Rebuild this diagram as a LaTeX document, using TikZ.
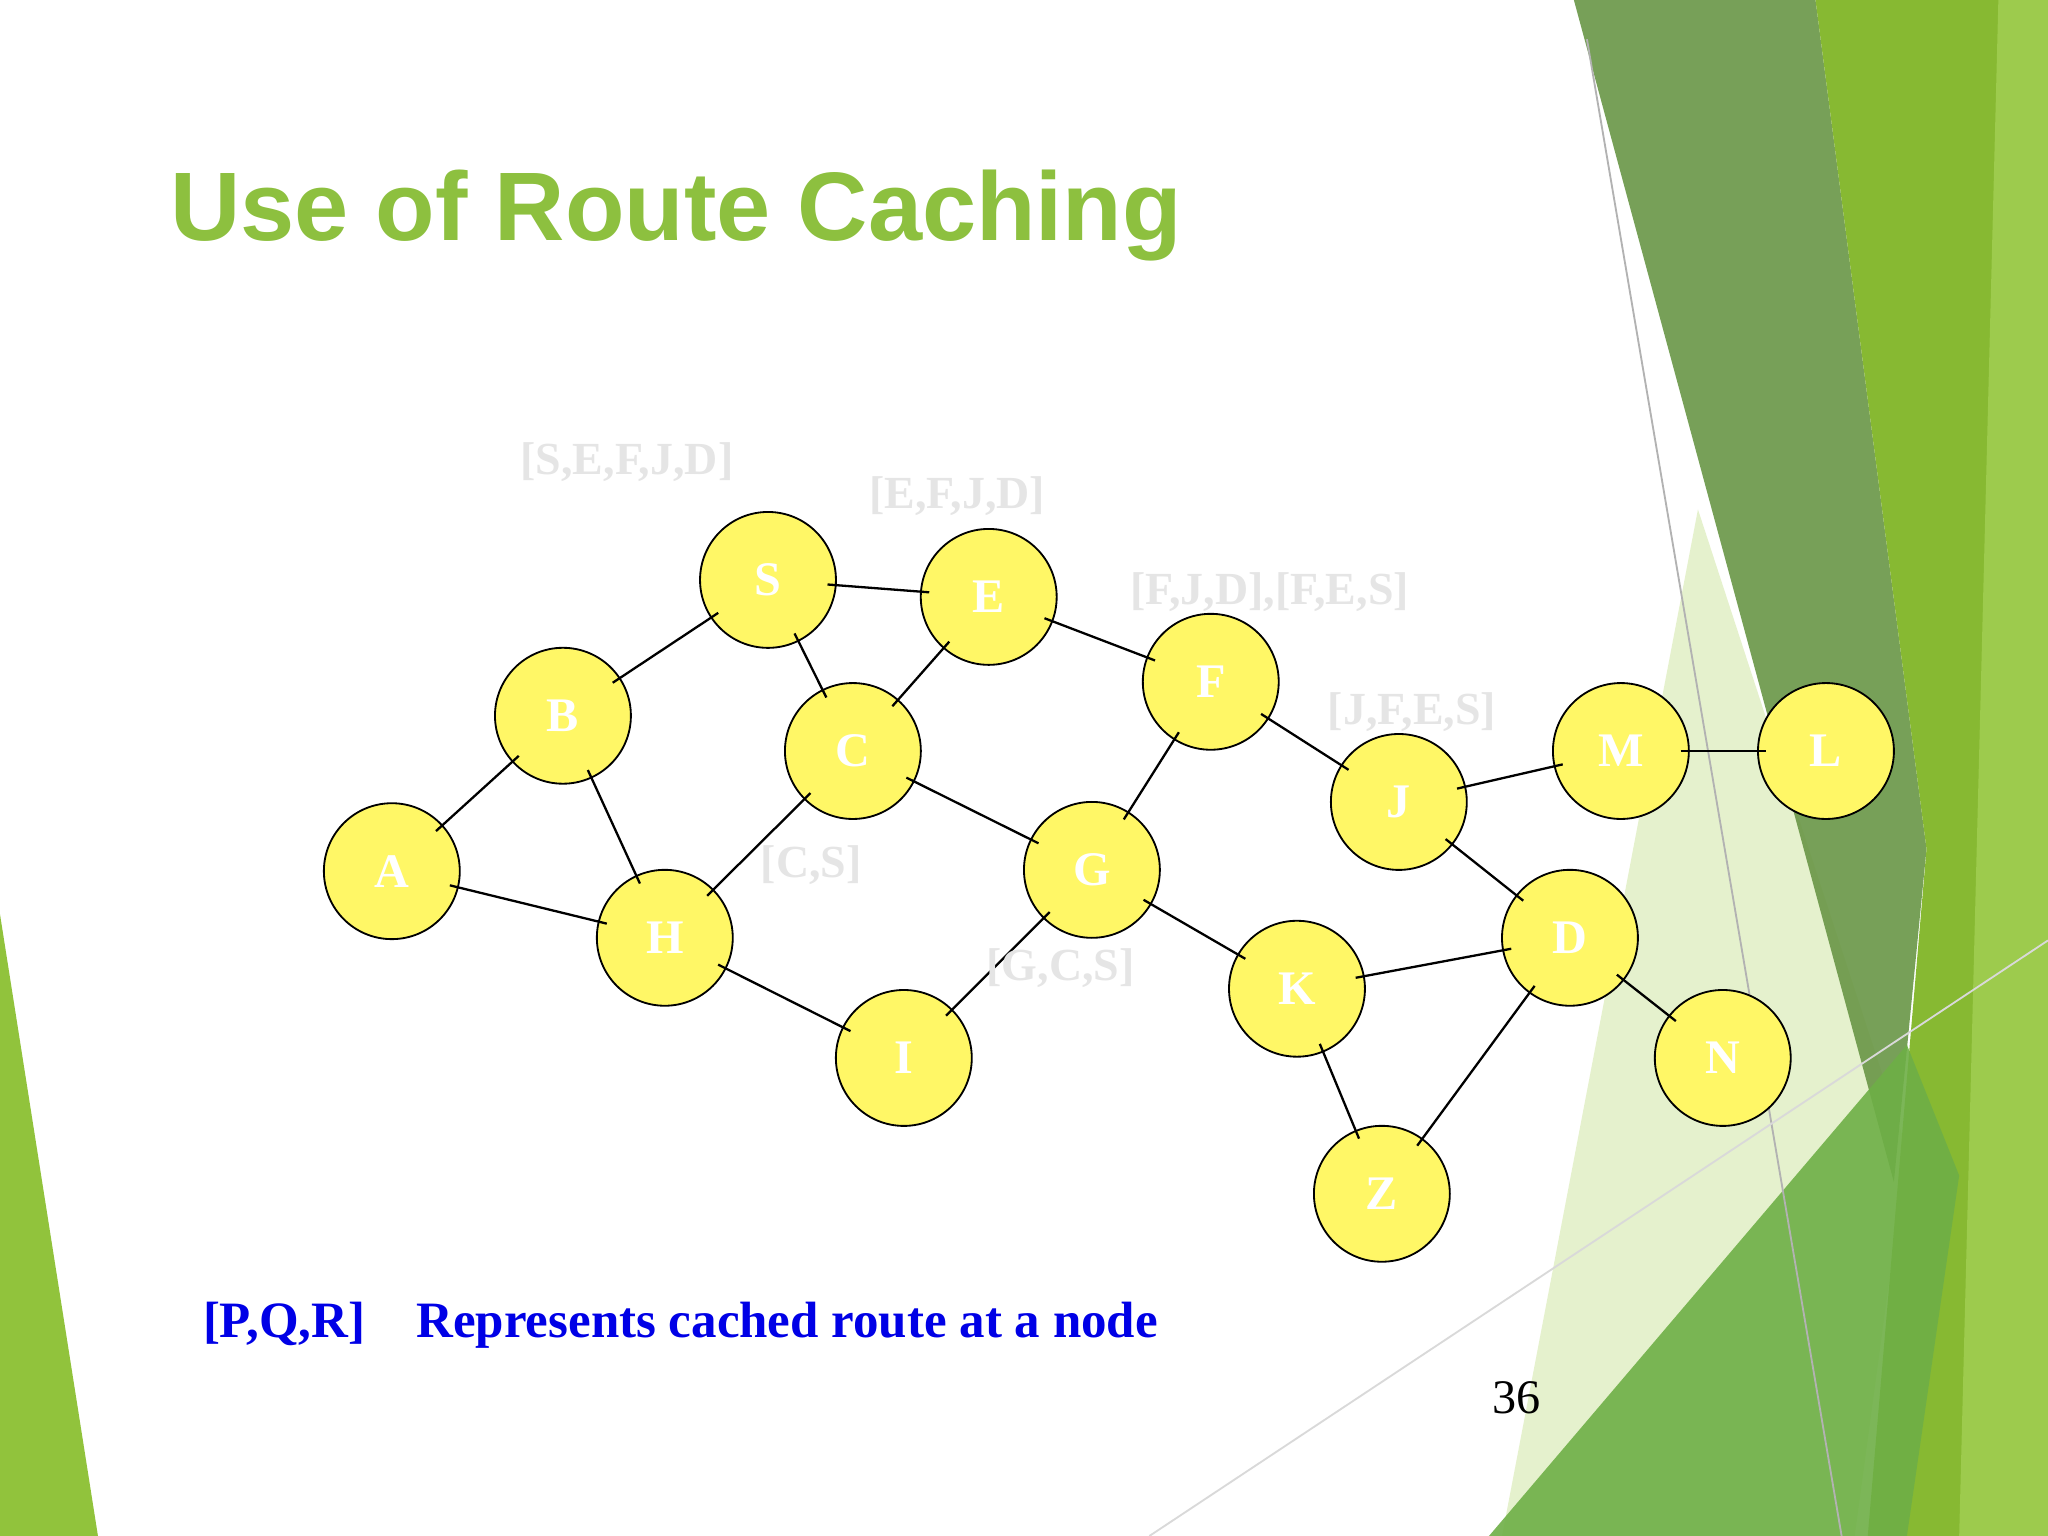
\documentclass[tikz,border=0pt]{standalone}
\usepackage{fontspec}
\setmainfont{Liberation Serif}
\newfontfamily\titlefont{Liberation Sans}
\begin{document}
\begin{tikzpicture}[x=0.01cm,y=-0.01cm,
  nd/.style={circle,draw=black,fill=yellow!60,minimum size=1.04cm,inner sep=0pt,font=\bfseries\fontsize{10.5}{12}\selectfont,text=white},
  cache/.style={font=\bfseries\fontsize{10}{12}\selectfont,text=black!10},
  edge/.style={draw=black,line width=0.5pt}]
\useasboundingbox (0,0) rectangle (1568,1176);
\fill[white] (0,0) rectangle (1568,1176);
% background decoration
\fill[color={rgb,255:red,170;green,210;blue,90},opacity=0.3] (1300,390)--(1460,880)--(1420,1176)--(1150,1176)--cycle;
\fill[color={rgb,255:red,105;green,150;blue,70},opacity=0.9] (1205,0)--(1390,0)--(1475,650)--(1450,905)--cycle;
\fill[color={rgb,255:red,135;green,185;blue,50}] (1390,0)--(1568,0)--(1568,1176)--(1430,1176)--(1475,650)--cycle;
\fill[color={rgb,255:red,160;green,205;blue,80},opacity=0.9] (1530,0)--(1568,0)--(1568,1176)--(1500,1176)--cycle;
\fill[color={rgb,255:red,110;green,175;blue,70},opacity=0.9] (1140,1176)--(1460,800)--(1500,900)--(1460,1176)--cycle;
\fill[color={rgb,255:red,145;green,195;blue,60}] (0,700)--(75,1176)--(0,1176)--cycle;
\draw[black!30] (1215,30)--(1410,1176);
\draw[black!15] (880,1176)--(1568,720);
% title
\node[anchor=west,font=\titlefont\bfseries\fontsize{21.2}{26}\selectfont,text={rgb,255:red,141;green,192;blue,63}] (title) at (118,165) {Use of Route Caching};
% nodes
\node[nd] (S) at (588,444) {S};
\node[nd] (E) at (757,457) {E};
\node[nd] (B) at (431,548) {B};
\node[nd] (C) at (653,575) {C};
\node[nd] (F) at (927,522) {F};
\node[nd] (A) at (300,667) {A};
\node[nd] (H) at (509,718) {H};
\node[nd] (G) at (836,666) {G};
\node[nd] (J) at (1071,614) {J};
\node[nd] (M) at (1241,575) {M};
\node[nd] (L) at (1398,575) {L};
\node[nd] (D) at (1202,718) {D};
\node[nd] (K) at (993,757) {K};
\node[nd] (N) at (1319,810) {N};
\node[nd] (I) at (692,810) {I};
\node[nd] (Z) at (1058,914) {Z};
% edges
\foreach \a/\b in {S/E,S/B,S/C,E/C,E/F,B/A,B/H,A/H,C/H,C/G,H/I,I/G,G/F,G/K,F/J,J/M,M/L,J/D,K/D,D/N,K/Z,Z/D}
  \draw[edge,shorten <=-2pt,shorten >=-2pt] (\a) -- (\b);
% cached routes
\node[cache] (c1) at (480,354) {[S,E,F,J,D]};
\node[cache] (c2) at (733,380) {[E,F,J,D]};
\node[cache] (c3) at (972,453) {[F,J,D],[F,E,S]};
\node[cache] (c4) at (1081,545) {[J,F,E,S]};
\node[cache] (c5) at (621,662) {[C,S]};
\node[cache] (c6) at (812,741) {[G,C,S]};
% legend
\node[anchor=west,font=\bfseries\fontsize{11.1}{13}\selectfont,text={rgb,255:red,0;green,0;blue,230}] (leg) at (143,1015) {[P,Q,R]\quad Represents cached route at a node};
\node[font=\fontsize{10.5}{12}\selectfont] (pg) at (1161,1070) {36};
\end{tikzpicture}
\end{document}
